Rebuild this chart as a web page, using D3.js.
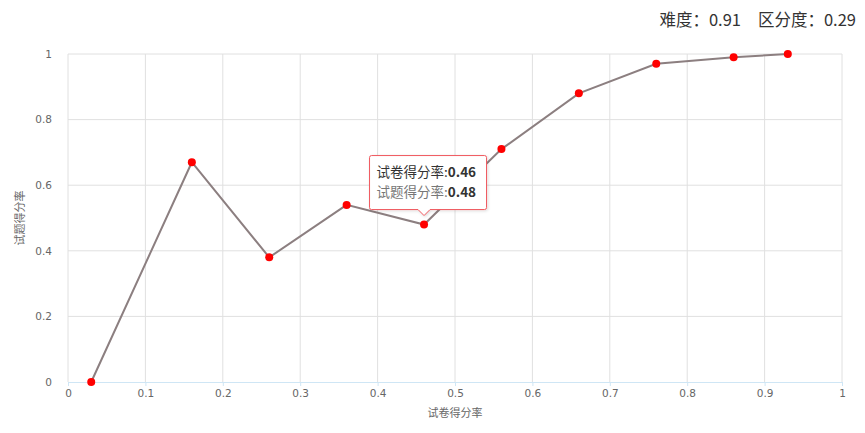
<!DOCTYPE html>
<html>
<head>
<meta charset="utf-8">
<script src="https://cdn.jsdelivr.net/npm/d3@7"></script>
<style>
  html, body { margin: 0; padding: 0; background: #fff; }
  svg { display: block; font-family: "Noto Sans CJK SC", "DejaVu Sans", sans-serif; }
</style>
</head>
<body>
<svg id="chart" width="865" height="433"></svg>
<script>
// --- Data ---
const paperRates = [0.03, 0.16, 0.26, 0.36, 0.46, 0.56, 0.66, 0.76, 0.86, 0.93];
const itemRates = [0, 0.67, 0.38, 0.54, 0.48, 0.71, 0.88, 0.97, 0.99, 1];
const xTicks = [0, 0.1, 0.2, 0.3, 0.4, 0.5, 0.6, 0.7, 0.8, 0.9, 1];
const yTicks = [0, 0.2, 0.4, 0.6, 0.8, 1];
const titleParts = ["难度：0.91", "区分度：0.29"];
const xTitle = "试卷得分率";
const yTitle = "试题得分率";
const tipIndex = 4;

const width = 865, height = 433;
const margin = { top: 54, right: 23, bottom: 51, left: 68 };
const tickFont = "'DejaVu Sans', sans-serif";

const svg = d3.select("#chart");

const x = d3.scaleLinear().domain([0, 1]).range([margin.left, width - margin.right]);
const y = d3.scaleLinear().domain([0, 1]).range([height - margin.bottom, margin.top]);

// --- Grid ---
const grid = svg.append("g");
grid.selectAll("line.h")
  .data(yTicks.filter(d => d > 0))
  .join("line")
  .attr("x1", x(0)).attr("x2", x(1))
  .attr("y1", d => y(d)).attr("y2", d => y(d))
  .attr("stroke", "#e0e0e0");
grid.selectAll("line.v")
  .data(xTicks)
  .join("line")
  .attr("x1", d => x(d)).attr("x2", d => x(d))
  .attr("y1", y(1)).attr("y2", y(0))
  .attr("stroke", "#e0e0e0");

// --- Axes ---
const xAxis = svg.append("g")
  .attr("transform", `translate(0,${y(0)})`)
  .call(d3.axisBottom(x).tickValues(xTicks).tickSize(4).tickPadding(4).tickFormat(d3.format("")));
xAxis.select(".domain").attr("stroke", "#cfe6f5");
xAxis.selectAll(".tick line").attr("stroke", "#cfe6f5");
xAxis.selectAll("text").attr("fill", "#666").attr("font-size", 10.5).style("font-family", tickFont);

const yAxis = svg.append("g")
  .attr("transform", `translate(${x(0)},0)`)
  .call(d3.axisLeft(y).tickValues(yTicks).tickSize(0).tickPadding(16).tickFormat(d3.format("")));
yAxis.select(".domain").remove();
yAxis.selectAll("text").attr("fill", "#666").attr("font-size", 10.5).style("font-family", tickFont);

// --- Axis titles ---
svg.append("text")
  .attr("x", (x(0) + x(1)) / 2)
  .attr("y", 417)
  .attr("text-anchor", "middle")
  .attr("fill", "#666")
  .attr("font-size", 11)
  .text(xTitle);

svg.append("text")
  .attr("transform", `translate(24,${(y(0) + y(1)) / 2}) rotate(-90)`)
  .attr("text-anchor", "middle")
  .attr("fill", "#666")
  .attr("font-size", 11)
  .text(yTitle);

// --- Title (two parts, right aligned) ---
svg.selectAll("text.title")
  .data(titleParts)
  .join("text")
  .attr("class", "title")
  .attr("x", (d, i) => i === 0 ? 741 : 856)
  .attr("y", 26)
  .attr("text-anchor", "end")
  .attr("fill", "#333")
  .attr("font-size", 16.5)
  .text(d => d);

// --- Line + points ---
const pts = paperRates.map((d, i) => [d, itemRates[i]]);
const line = d3.line().x(d => x(d[0])).y(d => y(d[1]));

svg.append("path")
  .datum(pts)
  .attr("d", line)
  .attr("fill", "none")
  .attr("stroke", "#8c7f80")
  .attr("stroke-width", 2);

svg.selectAll("circle.pt")
  .data(pts)
  .join("circle")
  .attr("class", "pt")
  .attr("cx", d => x(d[0]))
  .attr("cy", d => y(d[1]))
  .attr("r", 4)
  .attr("fill", "#ff0000");

// --- Tooltip ---
const tp = pts[tipIndex];
const tx = x(tp[0]), ty = y(tp[1]);
const boxW = 117, boxH = 54;
const bx = tx - boxW / 2 + 4, by = ty - 15 - boxH;

const tip = svg.append("g");
const shadow = svg.append("defs").append("filter")
  .attr("id", "shadow").attr("x", "-20%").attr("y", "-20%").attr("width", "140%").attr("height", "150%");
shadow.append("feDropShadow")
  .attr("dx", 1).attr("dy", 1).attr("stdDeviation", 1.5)
  .attr("flood-color", "#000").attr("flood-opacity", 0.15);

const arrowX = tx;
const pathD = [
  `M${bx + 2},${by}`,
  `H${bx + boxW - 2}`,
  `Q${bx + boxW},${by} ${bx + boxW},${by + 2}`,
  `V${by + boxH - 2}`,
  `Q${bx + boxW},${by + boxH} ${bx + boxW - 2},${by + boxH}`,
  `H${arrowX + 6}`,
  `L${arrowX},${by + boxH + 6}`,
  `L${arrowX - 6},${by + boxH}`,
  `H${bx + 2}`,
  `Q${bx},${by + boxH} ${bx},${by + boxH - 2}`,
  `V${by + 2}`,
  `Q${bx},${by} ${bx + 2},${by}`,
  "Z"
].join(" ");

tip.append("path")
  .attr("d", pathD)
  .attr("fill", "#fff")
  .attr("stroke", "#f0585e")
  .attr("stroke-width", 1)
  .attr("filter", "url(#shadow)");

const t1 = tip.append("text")
  .attr("x", bx + 7).attr("y", by + 21)
  .attr("font-size", 13.5);
t1.append("tspan").attr("fill", "#333").text("试卷得分率:");
t1.append("tspan").attr("fill", "#333").attr("font-weight", "bold").text(tp[0].toFixed(2));

const t2 = tip.append("text")
  .attr("x", bx + 7).attr("y", by + 41)
  .attr("font-size", 13.5);
t2.append("tspan").attr("fill", "#777").text("试题得分率:");
t2.append("tspan").attr("fill", "#333").attr("font-weight", "bold").text(tp[1].toFixed(2));
</script>
</body>
</html>
